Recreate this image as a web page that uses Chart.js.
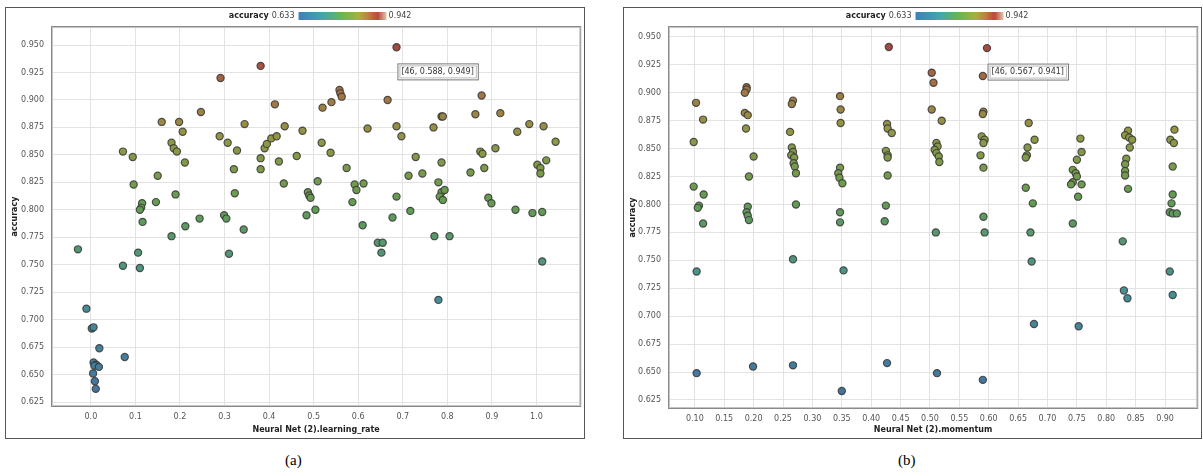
<!DOCTYPE html>
<html>
<head>
<meta charset="utf-8">
<script src="https://cdn.jsdelivr.net/npm/chart.js@4.4.0/dist/chart.umd.min.js"></script>
<style>
  body { margin: 0; background: #fff; width: 1203px; height: 476px; position: relative; overflow: hidden; }
  .panel { position: absolute; top: 7px; height: 430px; border: 1px solid #555; background: #fff; }
  .panel canvas { display: block; }
  .cap { position: absolute; top: 452px; font: 15px "Liberation Serif", "Times New Roman", serif; color: #000; }
</style>
</head>
<body>
<div class="panel" style="left:5px;width:578px"><canvas id="chartA"></canvas></div>
<div class="panel" style="left:623px;width:577px"><canvas id="chartB"></canvas></div>
<div class="cap" style="left:285px">(a)</div>
<div class="cap" style="left:898px">(b)</div>
<script>
// (a) learning rate vs accuracy
const lrA = [-0.029, -0.010, 0.002, 0.006, 0.019, 0.006, 0.012, 0.008, 0.018, 0.005, 0.009, 0.011,
  0.076, 0.072, 0.106, 0.110, 0.072, 0.094, 0.096, 0.115, 0.113, 0.110, 0.116, 0.146, 0.150, 0.159,
  0.181, 0.186, 0.193, 0.190, 0.181, 0.198, 0.206, 0.211, 0.212, 0.244, 0.247, 0.289, 0.291, 0.299,
  0.304, 0.307, 0.310, 0.321, 0.323, 0.328, 0.343, 0.345, 0.381, 0.381, 0.381, 0.390, 0.395, 0.405,
  0.417, 0.413, 0.422, 0.433, 0.435, 0.462, 0.475, 0.484, 0.487, 0.490, 0.493, 0.504, 0.509, 0.518,
  0.520, 0.538, 0.540, 0.558, 0.560, 0.563, 0.574, 0.587, 0.592, 0.596, 0.610, 0.612, 0.621, 0.644,
  0.655, 0.652, 0.666, 0.677, 0.686, 0.686, 0.697, 0.686, 0.713, 0.717, 0.729, 0.744, 0.769, 0.771,
  0.780, 0.780, 0.787, 0.790, 0.787, 0.787, 0.794, 0.783, 0.790, 0.805, 0.852, 0.863, 0.874, 0.877,
  0.879, 0.883, 0.892, 0.899, 0.908, 0.919, 0.953, 0.957, 0.984, 0.991, 1.002, 1.009, 1.009, 1.013,
  1.013, 1.016, 1.022, 1.043];
const accA = [0.764, 0.710, 0.692, 0.693, 0.674, 0.661, 0.659, 0.658, 0.657, 0.651, 0.644, 0.637,
  0.666, 0.749, 0.761, 0.747, 0.853, 0.848, 0.823, 0.806, 0.802, 0.800, 0.789, 0.807, 0.831, 0.880,
  0.861, 0.856, 0.853, 0.814, 0.776, 0.880, 0.871, 0.843, 0.785, 0.792, 0.889, 0.867, 0.920, 0.795,
  0.792, 0.861, 0.760, 0.837, 0.815, 0.854, 0.782, 0.878, 0.931, 0.847, 0.837, 0.856, 0.860, 0.865,
  0.867, 0.896, 0.844, 0.824, 0.876, 0.849, 0.872, 0.795, 0.816, 0.813, 0.811, 0.800, 0.826, 0.861,
  0.893, 0.852, 0.898, 0.909, 0.906, 0.903, 0.838, 0.807, 0.823, 0.818, 0.786, 0.824, 0.874, 0.770,
  0.770, 0.761, 0.900, 0.793, 0.948, 0.876, 0.867, 0.812, 0.831, 0.799, 0.848, 0.833, 0.875, 0.776,
  0.825, 0.718, 0.885, 0.885, 0.843, 0.816, 0.818, 0.812, 0.809, 0.776, 0.834, 0.887, 0.853, 0.904,
  0.851, 0.838, 0.811, 0.806, 0.856, 0.888, 0.800, 0.871, 0.878, 0.797, 0.841, 0.838, 0.833, 0.798,
  0.753, 0.876, 0.845, 0.862];

// (b) momentum vs accuracy
const momB = [0.098, 0.102, 0.114, 0.098, 0.115, 0.107, 0.105, 0.114, 0.103, 0.103,
  0.188, 0.188, 0.185, 0.185, 0.190, 0.187, 0.200, 0.192, 0.190, 0.188, 0.190, 0.192, 0.199,
  0.267, 0.265, 0.262, 0.265, 0.267, 0.264, 0.269, 0.268, 0.270, 0.272, 0.272, 0.267, 0.267,
  0.347, 0.348, 0.348, 0.347, 0.344, 0.346, 0.351, 0.347, 0.347, 0.353, 0.350,
  0.430, 0.427, 0.428, 0.435, 0.425, 0.428, 0.428, 0.428, 0.425, 0.423, 0.427,
  0.503, 0.506, 0.503, 0.520, 0.511, 0.513, 0.508, 0.511, 0.515, 0.516, 0.510, 0.512,
  0.597, 0.590, 0.591, 0.590, 0.588, 0.593, 0.591, 0.586, 0.591, 0.591, 0.593, 0.590,
  0.668, 0.678, 0.666, 0.665, 0.663, 0.663, 0.675, 0.671, 0.673, 0.677,
  0.756, 0.758, 0.750, 0.743, 0.748, 0.750, 0.743, 0.758, 0.740, 0.752, 0.743, 0.753,
  0.837, 0.832, 0.839, 0.844, 0.840, 0.834, 0.832, 0.832, 0.832, 0.837, 0.828, 0.830, 0.836,
  0.916, 0.909, 0.915, 0.913, 0.913, 0.911, 0.908, 0.913, 0.920, 0.908, 0.913];
const accB = [0.856, 0.891, 0.876, 0.816, 0.809, 0.799, 0.797, 0.783, 0.740, 0.649,
  0.905, 0.903, 0.900, 0.882, 0.880, 0.868, 0.843, 0.825, 0.798, 0.793, 0.790, 0.786, 0.655,
  0.893, 0.890, 0.865, 0.851, 0.847, 0.844, 0.842, 0.837, 0.834, 0.828, 0.800, 0.751, 0.656,
  0.897, 0.885, 0.873, 0.833, 0.828, 0.824, 0.819, 0.793, 0.784, 0.741, 0.633,
  0.941, 0.872, 0.868, 0.864, 0.848, 0.844, 0.842, 0.826, 0.799, 0.785, 0.658,
  0.918, 0.909, 0.885, 0.875, 0.855, 0.852, 0.849, 0.846, 0.843, 0.838, 0.775, 0.649,
  0.940, 0.915, 0.883, 0.881, 0.861, 0.858, 0.855, 0.844, 0.833, 0.789, 0.775, 0.643,
  0.873, 0.858, 0.851, 0.844, 0.842, 0.815, 0.801, 0.775, 0.749, 0.693,
  0.859, 0.847, 0.840, 0.831, 0.828, 0.825, 0.820, 0.818, 0.818, 0.807, 0.783, 0.691,
  0.866, 0.862, 0.860, 0.858, 0.851, 0.841, 0.836, 0.830, 0.826, 0.814, 0.767, 0.723, 0.716,
  0.867, 0.858, 0.855, 0.834, 0.809, 0.801, 0.793, 0.792, 0.792, 0.740, 0.719];

const xTicksA = [0.0, 0.1, 0.2, 0.3, 0.4, 0.5, 0.6, 0.7, 0.8, 0.9, 1.0];
const xTicksB = [0.10, 0.15, 0.20, 0.25, 0.30, 0.35, 0.40, 0.45, 0.50, 0.55, 0.60, 0.65, 0.70, 0.75, 0.80, 0.85, 0.90];
const yTicks = [0.625, 0.650, 0.675, 0.700, 0.725, 0.750, 0.775, 0.800, 0.825, 0.850, 0.875, 0.900, 0.925, 0.950];

const accMin = 0.633;
const accMax = 0.942;

// colour ramp used for the points and the colour bar
const ramp = [
  [0.0, [62, 128, 186]],
  [0.3, [66, 166, 170]],
  [0.55, [104, 182, 82]],
  [0.75, [166, 176, 64]],
  [0.88, [192, 128, 64]],
  [1.0, [188, 70, 62]],
];

function rampRGB(t) {
  t = Math.max(0, Math.min(1, t));
  for (let i = 1; i < ramp.length; i++) {
    if (t <= ramp[i][0]) {
      const [t0, c0] = ramp[i - 1];
      const [t1, c1] = ramp[i];
      const f = (t - t0) / (t1 - t0);
      return c0.map((a, k) => a + (c1[k] - a) * f);
    }
  }
  return ramp[ramp.length - 1][1];
}

// points look a bit muddier than the bar, so pull them toward grey
function accColor(v) {
  const c = rampRGB((v - accMin) / (accMax - accMin)).map((a) => Math.round(a * 0.75 + 80 * 0.25));
  return `rgb(${c[0]},${c[1]},${c[2]})`;
}

const FONT = '"DejaVu Sans", sans-serif';

const decor = {
  id: "decor",
  afterDraw(chart, args, opts) {
    const { ctx, chartArea: a, scales } = chart;
    ctx.save();
    // plot frame
    ctx.lineWidth = 1;
    ctx.strokeStyle = "#8a8a8a";
    ctx.strokeRect(a.left - 1.5, a.top - 1.5, a.right - a.left + 3, a.bottom - a.top + 3);
    ctx.strokeStyle = "#c4c4c4";
    ctx.strokeRect(a.left - 0.5, a.top - 0.5, a.right - a.left + 1, a.bottom - a.top + 1);

    // colour bar legend above plot
    const cy = 8;
    const barW = 88, barH = 8;
    ctx.textBaseline = "middle";
    ctx.font = "bold 8px " + FONT;
    const w1 = ctx.measureText("accuracy").width;
    ctx.font = "8px " + FONT;
    const w2 = ctx.measureText("0.633").width;
    const w3 = ctx.measureText("0.942").width;
    const total = w1 + 3 + w2 + 4 + barW + 2 + w3;
    let x = (a.left + a.right) / 2 - total / 2 + 4;
    ctx.fillStyle = "#222";
    ctx.font = "bold 8px " + FONT;
    ctx.fillText("accuracy", x, cy);
    x += w1 + 3;
    ctx.font = "8px " + FONT;
    ctx.fillStyle = "#444";
    ctx.fillText("0.633", x, cy);
    x += w2 + 4;
    const g = ctx.createLinearGradient(x, 0, x + barW, 0);
    ramp.forEach(([t, c]) => g.addColorStop(t * 0.9, `rgb(${c[0]},${c[1]},${c[2]})`));
    g.addColorStop(1, "rgb(220,200,170)");
    ctx.fillStyle = g;
    ctx.fillRect(x, cy - barH / 2, barW, barH);
    x += barW + 2;
    ctx.fillStyle = "#444";
    ctx.fillText("0.942", x, cy);

    // point annotation box
    if (opts.note) {
      const bx = scales.x.getPixelForValue(opts.note.x);
      const by = scales.y.getPixelForValue(opts.note.y);
      ctx.font = "8px " + FONT;
      const tw = ctx.measureText(opts.note.text).width;
      const bw = tw + 8, bh = 16;
      ctx.fillStyle = "#fff";
      ctx.fillRect(bx, by - bh / 2, bw, bh);
      ctx.strokeStyle = "#777";
      ctx.strokeRect(bx + 0.5, by - bh / 2 + 0.5, bw, bh);
      ctx.strokeStyle = "#bbb";
      ctx.strokeRect(bx + 2.5, by - bh / 2 + 2.5, bw - 4, bh - 4);
      ctx.fillStyle = "#333";
      ctx.fillText(opts.note.text, bx + 4, by + 0.5);
    }
    ctx.restore();
  },
};

function makeChart(id, xs, ys, cfg) {
  const pts = xs.map((x, i) => ({ x: x, y: ys[i] }));
  return new Chart(document.getElementById(id), {
    type: "scatter",
    data: {
      datasets: [
        {
          data: pts,
          pointRadius: 3.6,
          pointHoverRadius: 3.6,
          borderWidth: 1.2,
          pointBorderColor: "rgba(55,55,55,0.85)",
          pointBackgroundColor: ys.map(accColor),
        },
      ],
    },
    options: {
      responsive: true,
      maintainAspectRatio: false,
      animation: false,
      events: [],
      layout: { padding: { top: 20, right: cfg.padRight, left: 0, bottom: 0 } },
      plugins: {
        legend: { display: false },
        tooltip: { enabled: false },
        decor: { note: cfg.note },
      },
      scales: {
        x: {
          type: "linear",
          min: cfg.xMin,
          max: cfg.xMax,
          afterBuildTicks: (s) => { s.ticks = cfg.xTicks.map((v) => ({ value: v })); },
          afterFit: (s) => { s.height = cfg.xAxisH; },
          grid: { color: "#e3e3e3", drawTicks: false },
          border: { display: false },
          ticks: {
            padding: 7,
            color: "#555",
            font: { size: 8, family: FONT },
            maxRotation: 0,
            autoSkip: false,
            callback: (v) => Number(v).toFixed(cfg.xDec),
          },
          title: {
            display: true,
            text: cfg.xTitle,
            color: "#222",
            font: { size: 8, weight: "bold", family: FONT },
            padding: { top: 2, bottom: 3 },
          },
        },
        y: {
          type: "linear",
          min: cfg.yMin,
          max: cfg.yMax,
          afterBuildTicks: (s) => { s.ticks = yTicks.map((v) => ({ value: v })); },
          afterFit: (s) => { s.width = cfg.yAxisW; },
          grid: { color: "#e3e3e3", drawTicks: false },
          border: { display: false },
          ticks: {
            padding: 9,
            color: "#555",
            font: { size: 8, family: FONT },
            autoSkip: false,
            callback: (v) => Number(v).toFixed(3),
          },
          title: {
            display: true,
            text: "accuracy",
            color: "#222",
            font: { size: 8, weight: "bold", family: FONT },
            padding: { top: 4, bottom: 2 },
          },
        },
      },
    },
    plugins: [decor],
  });
}

makeChart("chartA", lrA, accA, {
  xMin: -0.085, xMax: 1.096, yMin: 0.6223, yMax: 0.9655,
  xTicks: xTicksA, xDec: 1, xTitle: "Neural Net (2).learning_rate",
  padRight: 4, xAxisH: 33, yAxisW: 47,
  note: { x: 0.688, y: 0.926, text: "[46, 0.588, 0.949]" },
});

makeChart("chartB", momB, accB, {
  xMin: 0.0577, xMax: 0.953, yMin: 0.6187, yMax: 0.958,
  xTicks: xTicksB, xDec: 2, xTitle: "Neural Net (2).momentum",
  padRight: 3, xAxisH: 31, yAxisW: 46,
  note: { x: 0.598, y: 0.919, text: "[46, 0.567, 0.941]" },
});
</script>
</body>
</html>
